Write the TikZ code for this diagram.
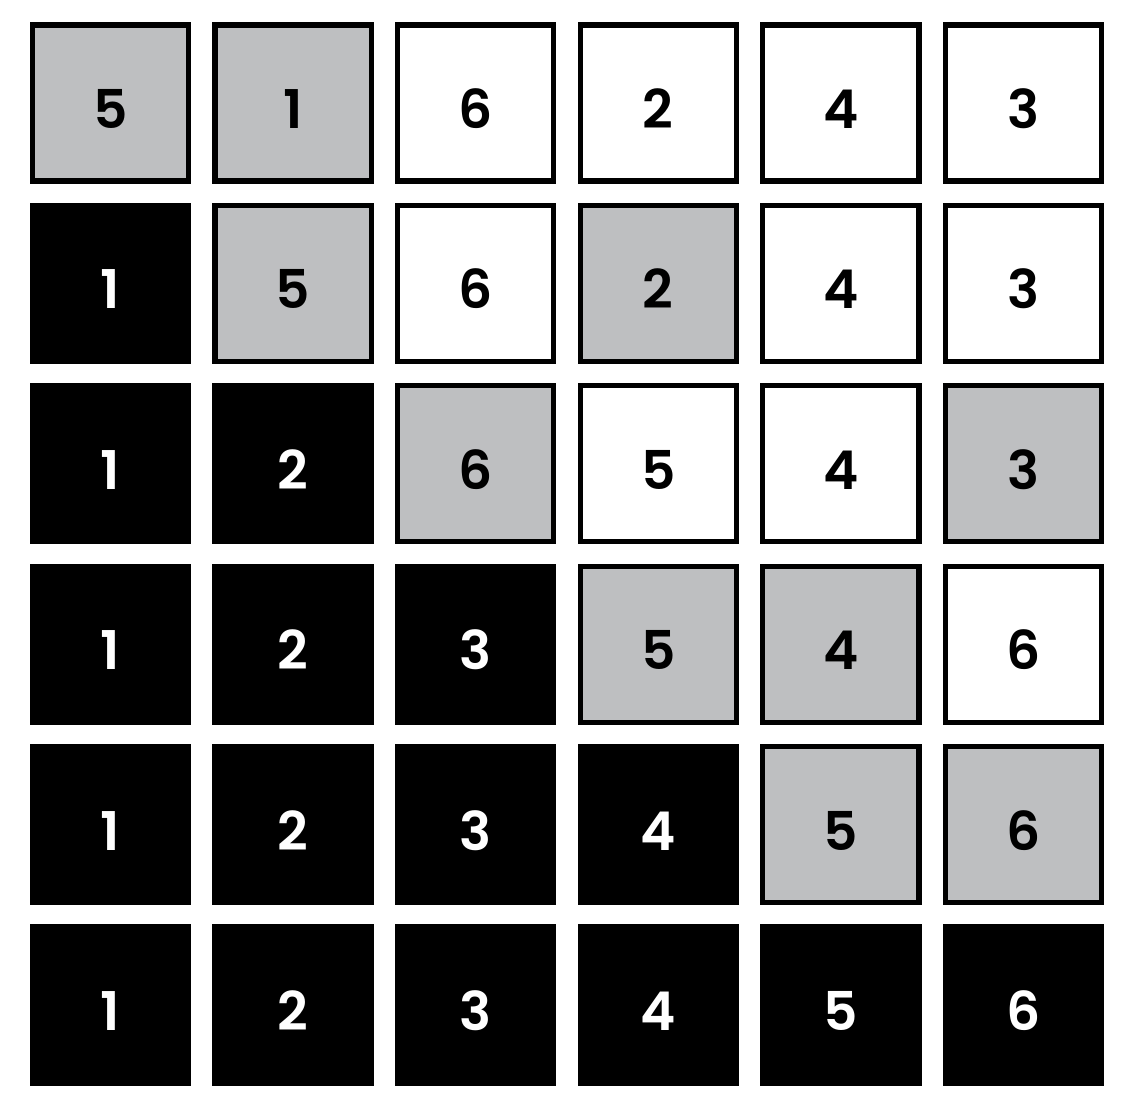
\documentclass[tikz,border=0pt]{standalone}
\usepackage{fontspec}
\setmainfont{Poppins}[BoldFont={Poppins SemiBold}]
\definecolor{cellgray}{RGB}{190,191,193}
\tikzset{
  cell/.style={draw=black, line width=0.13cm, minimum size=3.9cm, inner sep=0pt,
    text height=1.275cm, text depth=0pt, font=\fontsize{38}{40}\selectfont\bfseries},
  open/.style={cell, fill=white, text=black},
  shade/.style={cell, fill=cellgray, text=black},
  done/.style={cell, fill=black, text=white}
}
\begin{document}
\begin{tikzpicture}[x=0.025cm, y=-0.025cm]
    \useasboundingbox (0,0) rectangle (1124,1102);
    % row 1
    \node[shade] (c11) at (110.5,103) {5};
    \node[shade] (c12) at (293.1,103) {1};
    \node[open]  (c13) at (475.7,103) {6};
    \node[open]  (c14) at (658.3,103) {2};
    \node[open]  (c15) at (840.9,103) {4};
    \node[open]  (c16) at (1023.5,103) {3};
    % row 2
    \node[done]  (c21) at (110.5,283.4) {1};
    \node[shade] (c22) at (293.1,283.4) {5};
    \node[open]  (c23) at (475.7,283.4) {6};
    \node[shade] (c24) at (658.3,283.4) {2};
    \node[open]  (c25) at (840.9,283.4) {4};
    \node[open]  (c26) at (1023.5,283.4) {3};
    % row 3
    \node[done]  (c31) at (110.5,463.8) {1};
    \node[done]  (c32) at (293.1,463.8) {2};
    \node[shade] (c33) at (475.7,463.8) {6};
    \node[open]  (c34) at (658.3,463.8) {5};
    \node[open]  (c35) at (840.9,463.8) {4};
    \node[shade] (c36) at (1023.5,463.8) {3};
    % row 4
    \node[done]  (c41) at (110.5,644.2) {1};
    \node[done]  (c42) at (293.1,644.2) {2};
    \node[done]  (c43) at (475.7,644.2) {3};
    \node[shade] (c44) at (658.3,644.2) {5};
    \node[shade] (c45) at (840.9,644.2) {4};
    \node[open]  (c46) at (1023.5,644.2) {6};
    % row 5
    \node[done]  (c51) at (110.5,824.6) {1};
    \node[done]  (c52) at (293.1,824.6) {2};
    \node[done]  (c53) at (475.7,824.6) {3};
    \node[done]  (c54) at (658.3,824.6) {4};
    \node[shade] (c55) at (840.9,824.6) {5};
    \node[shade] (c56) at (1023.5,824.6) {6};
    % row 6
    \node[done]  (c61) at (110.5,1005) {1};
    \node[done]  (c62) at (293.1,1005) {2};
    \node[done]  (c63) at (475.7,1005) {3};
    \node[done]  (c64) at (658.3,1005) {4};
    \node[done]  (c65) at (840.9,1005) {5};
    \node[done]  (c66) at (1023.5,1005) {6};
\end{tikzpicture}
\end{document}
